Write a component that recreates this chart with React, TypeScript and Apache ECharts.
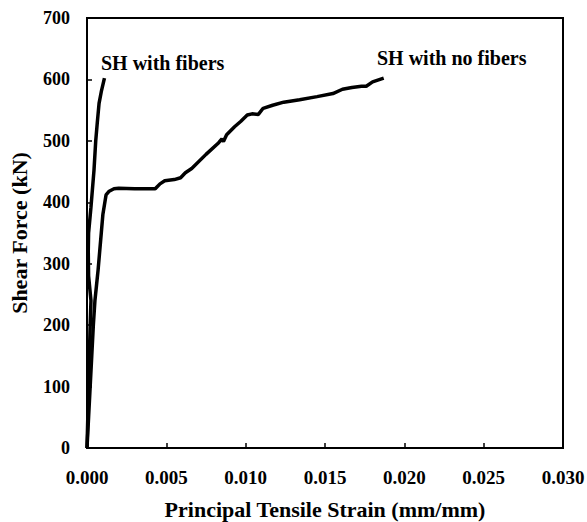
import React, { useEffect, useRef } from "react";
import * as echarts from "echarts";

const noFiberStrain = [0, 0.0001, 0.0002, 0.0003, 0.0004, 0.0005, 0.0006, 0.0007, 0.0008, 0.0009, 0.001, 0.0012, 0.0014, 0.0017, 0.002, 0.003, 0.0043, 0.0046, 0.0049, 0.0055, 0.0059, 0.0062, 0.0066, 0.0075, 0.0083, 0.0085, 0.0086, 0.0088, 0.0093, 0.0097, 0.0101, 0.0104, 0.0108, 0.0111, 0.0117, 0.0124, 0.0134, 0.0145, 0.0155, 0.0161, 0.0167, 0.0173, 0.0176, 0.018, 0.0187];
const noFiberForce = [0, 50, 100, 150, 200, 240, 265, 290, 320, 350, 380, 412, 418, 422, 423, 422, 422, 430, 435, 437, 440, 448, 455, 478, 497, 503, 499, 510, 523, 532, 542, 544, 543, 553, 558, 563, 567, 572, 577, 584, 587, 589, 589, 596, 602];

const fiberStrain = [0, 0.00005, 0.0001, 0.00015, 0.0002, 0.00025, 0.0001, 0.00008, 0.0001, 0.00025, 0.00044, 0.00055, 0.00065, 0.00076, 0.0009, 0.0011];
const fiberForce = [0, 50, 100, 150, 200, 240, 280, 320, 350, 392, 452, 500, 530, 561, 580, 602];

const xTicks = ["0.000", "0.005", "0.010", "0.015", "0.020", "0.025", "0.030"];
const labelFiber = "SH with fibers";
const labelNoFiber = "SH with no fibers";

const FONT = "'Liberation Serif', 'Times New Roman', serif";

export default function App() {
  const ref = useRef<HTMLDivElement>(null);
  useEffect(() => {
    if (!ref.current) return;
    const chart = echarts.init(ref.current, undefined, { renderer: "svg" });
    const zip = (xs: number[], ys: number[]) => xs.map((x, i) => [x, ys[i]]);
    chart.setOption({
      animation: false,
      backgroundColor: "#fff",
      grid: {
        left: 87,
        right: 24,
        top: 18,
        bottom: 74,
        containLabel: false,
        outerBoundsMode: "none",
        show: true,
        borderColor: "#000",
        borderWidth: 2,
      },
      xAxis: {
        type: "value",
        min: 0,
        max: 0.03,
        interval: 0.005,
        name: "Principal Tensile Strain (mm/mm)",
        nameLocation: "middle",
        nameGap: 50,
        nameTextStyle: { fontFamily: FONT, fontWeight: "bold", fontSize: 22, color: "#000" },
        axisLine: { lineStyle: { color: "#000", width: 2 } },
        axisTick: { inside: true, length: 5, lineStyle: { color: "#000", width: 1.5 } },
        axisLabel: {
          fontFamily: FONT,
          fontWeight: "bold",
          fontSize: 19,
          color: "#000",
          margin: 20,
          formatter: (v: number) => xTicks[Math.round(v / 0.005)] ?? "",
        },
        splitLine: { show: false },
      },
      yAxis: {
        type: "value",
        min: 0,
        max: 700,
        interval: 100,
        name: "Shear Force (kN)",
        nameLocation: "middle",
        nameGap: 57,
        nameTextStyle: { fontFamily: FONT, fontWeight: "bold", fontSize: 22, color: "#000" },
        axisLine: { show: true, lineStyle: { color: "#000", width: 2 } },
        axisTick: { show: true, inside: true, length: 5, lineStyle: { color: "#000", width: 1.5 } },
        axisLabel: { fontFamily: FONT, fontWeight: "bold", fontSize: 18, color: "#000", margin: 17 },
        splitLine: { show: false },
      },
      series: [
        {
          type: "line",
          name: labelNoFiber,
          data: zip(noFiberStrain, noFiberForce),
          showSymbol: false,
          lineStyle: { color: "#000", width: 3.5 },
        },
        {
          type: "line",
          name: labelFiber,
          data: zip(fiberStrain, fiberForce),
          showSymbol: false,
          lineStyle: { color: "#000", width: 3.5 },
        },
      ],
      graphic: [
        {
          type: "text",
          left: 101,
          top: 53,
          style: { text: labelFiber, font: `bold 20px ${FONT}`, fill: "#000" },
        },
        {
          type: "text",
          left: 377,
          top: 48,
          style: { text: labelNoFiber, font: `bold 20px ${FONT}`, fill: "#000" },
        },
      ],
    });
    return () => chart.dispose();
  }, []);
  return (
    <div
      ref={ref}
      style={{ position: "absolute", left: 0, top: 0, width: 587, height: 522 }}
    />
  );
}
